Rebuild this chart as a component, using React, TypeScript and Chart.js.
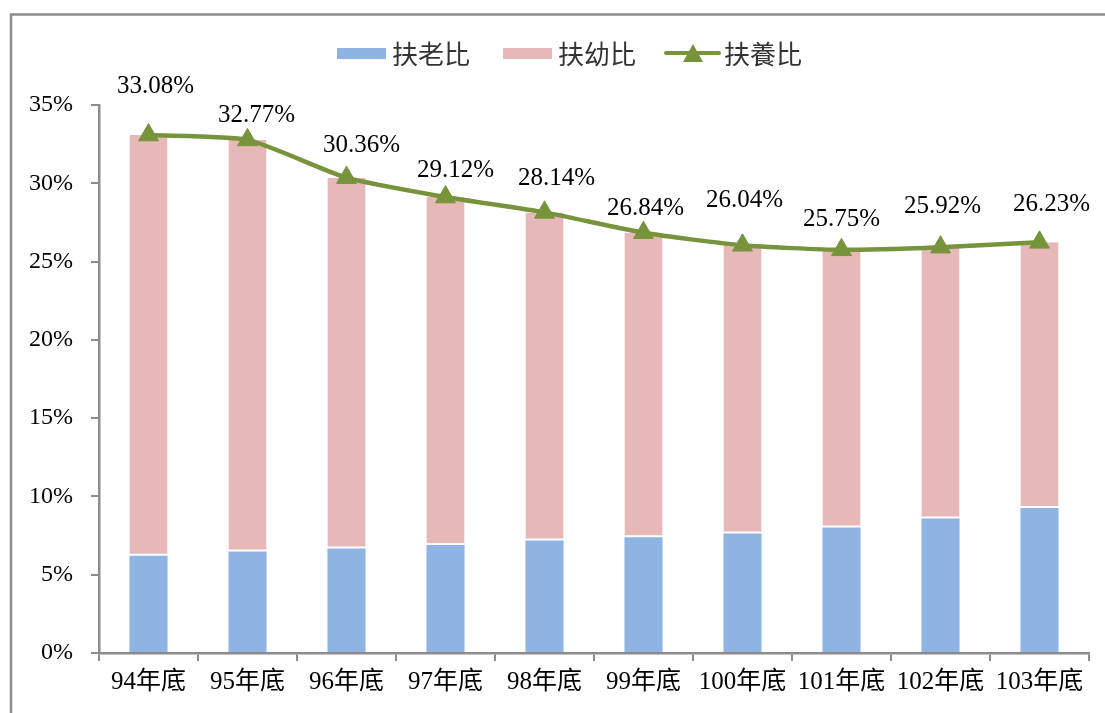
import React, { useEffect, useRef } from 'react';
import { Chart, registerables } from 'chart.js';

Chart.register(...registerables);

const categories = ['94年底', '95年底', '96年底', '97年底', '98年底', '99年底', '100年底', '101年底', '102年底', '103年底'];
const oldAgeRatio = [6.21, 6.48, 6.67, 6.89, 7.19, 7.4, 7.63, 8.02, 8.59, 9.26];
const youngRatio = [26.87, 26.29, 23.69, 22.23, 20.95, 19.44, 18.41, 17.73, 17.33, 16.97];
const totalRatio = [33.08, 32.77, 30.36, 29.12, 28.14, 26.84, 26.04, 25.75, 25.92, 26.23];
const seriesNames = ['扶老比', '扶幼比', '扶養比'];
const yMax = 35;
const yStep = 5;

// label nudges relative to each point (style only)
const labelNudge: [number, number][] = [
  [7, -49], [9, -24], [15, -32], [10, -27], [12, -34],
  [2, -24], [2, -45], [0, -30], [2, -41], [12, -38],
];

const BLUE = '#8EB4E3';
const PINK = '#E6B9B8';
const GREEN = '#77933C';
const AXIS = '#8C8C8C';
const SERIF = '"Liberation Serif", "Noto Sans CJK TC", serif';
const CJK = '"Noto Sans CJK TC", "Noto Sans", sans-serif';

const framePlugin = {
  id: 'frame',
  beforeDraw(chart: any) {
    const ctx = chart.ctx;
    ctx.save();
    ctx.strokeStyle = AXIS;
    ctx.lineWidth = 2.5;
    ctx.beginPath();
    ctx.moveTo(11, chart.height + 5);
    ctx.lineTo(11, 14.5);
    ctx.lineTo(chart.width + 5, 14.5);
    ctx.stroke();
    ctx.restore();
  },
};

const legendPlugin = {
  id: 'customLegend',
  afterDraw(chart: any) {
    const ctx = chart.ctx;
    ctx.save();
    ctx.font = `26px ${CJK}`;
    ctx.textBaseline = 'middle';
    ctx.textAlign = 'left';
    const cy = 54;
    ctx.fillStyle = BLUE;
    ctx.fillRect(337, 48, 49, 11);
    ctx.fillStyle = '#333333';
    ctx.fillText(seriesNames[0], 392, cy);
    ctx.fillStyle = PINK;
    ctx.fillRect(503, 48, 49, 11);
    ctx.fillStyle = '#333333';
    ctx.fillText(seriesNames[1], 558, cy);
    ctx.strokeStyle = GREEN;
    ctx.lineWidth = 4;
    ctx.lineCap = 'round';
    ctx.beginPath();
    ctx.moveTo(666, 53);
    ctx.lineTo(719, 53);
    ctx.stroke();
    ctx.fillStyle = GREEN;
    ctx.beginPath();
    ctx.moveTo(693, 44);
    ctx.lineTo(703, 62);
    ctx.lineTo(683, 62);
    ctx.closePath();
    ctx.fill();
    ctx.fillStyle = '#333333';
    ctx.fillText(seriesNames[2], 724, cy);
    ctx.restore();
  },
};

const labelPlugin = {
  id: 'pointLabels',
  afterDatasetsDraw(chart: any) {
    const meta = chart.getDatasetMeta(2);
    const ctx = chart.ctx;
    ctx.save();
    ctx.font = `25px ${SERIF}`;
    ctx.fillStyle = '#000000';
    ctx.textAlign = 'center';
    ctx.textBaseline = 'middle';
    meta.data.forEach((pt: any, i: number) => {
      const [dx, dy] = labelNudge[i];
      ctx.fillText(totalRatio[i].toFixed(2) + '%', pt.x + dx, pt.y + dy);
    });
    ctx.restore();
  },
};

export default function App() {
  const ref = useRef<HTMLCanvasElement | null>(null);

  useEffect(() => {
    if (!ref.current) return;
    const chart = new Chart(ref.current, {
      type: 'bar',
      data: {
        labels: categories,
        datasets: [
          {
            type: 'bar',
            label: seriesNames[0],
            data: oldAgeRatio,
            backgroundColor: BLUE,
            borderColor: '#ffffff',
            borderWidth: 0,
            stack: 'bars',
            order: 1,
            barPercentage: 0.385,
            categoryPercentage: 1,
          },
          {
            type: 'bar',
            label: seriesNames[1],
            data: youngRatio,
            backgroundColor: PINK,
            borderColor: '#ffffff',
            borderWidth: { top: 0, left: 0, right: 0, bottom: 2 },
            borderSkipped: false,
            stack: 'bars',
            order: 1,
            barPercentage: 0.385,
            categoryPercentage: 1,
          },
          {
            type: 'line',
            label: seriesNames[2],
            data: totalRatio,
            borderColor: GREEN,
            borderWidth: 4.5,
            backgroundColor: GREEN,
            pointStyle: 'triangle',
            pointRadius: 11.5,
            pointBackgroundColor: GREEN,
            pointBorderColor: GREEN,
            pointBorderWidth: 1,
            tension: 0.2,
            stack: 'line',
            order: 0,
          } as any,
        ],
      },
      options: {
        responsive: false,
        animation: false,
        layout: { padding: { left: 0, top: 105, right: 16, bottom: 0 } },
        plugins: {
          legend: { display: false },
          tooltip: { enabled: false },
        },
        scales: {
          x: {
            stacked: true,
            offset: true,
            grid: {
              offset: true,
              display: true,
              drawOnChartArea: false,
              drawTicks: true,
              tickLength: 8,
              color: AXIS,
              lineWidth: 2,
            },
            border: { display: true, color: AXIS, width: 2.5 },
            ticks: {
              color: '#000000',
              font: { family: SERIF, size: 25 },
              padding: 6,
              maxRotation: 0,
              autoSkip: false,
            },
            afterFit(scale: any) {
              scale.height = 60;
            },
          },
          y: {
            stacked: true,
            min: 0,
            max: yMax,
            grid: {
              display: true,
              drawOnChartArea: false,
              drawTicks: true,
              tickLength: 8,
              color: AXIS,
              lineWidth: 2,
            },
            border: { display: true, color: AXIS, width: 2.5 },
            ticks: {
              stepSize: yStep,
              color: '#000000',
              font: { family: SERIF, size: 24 },
              padding: 18,
              callback: (v: any) => `${v}%`,
            },
            afterFit(scale: any) {
              scale.width = 99;
            },
          },
        },
      },
      plugins: [framePlugin, legendPlugin, labelPlugin],
    });
    return () => chart.destroy();
  }, []);

  return (
    <div style={{ position: 'fixed', left: 0, top: 0, width: 1105, height: 713, background: '#ffffff' }}>
      <canvas ref={ref} width={1105} height={713} style={{ display: 'block' }} />
    </div>
  );
}
